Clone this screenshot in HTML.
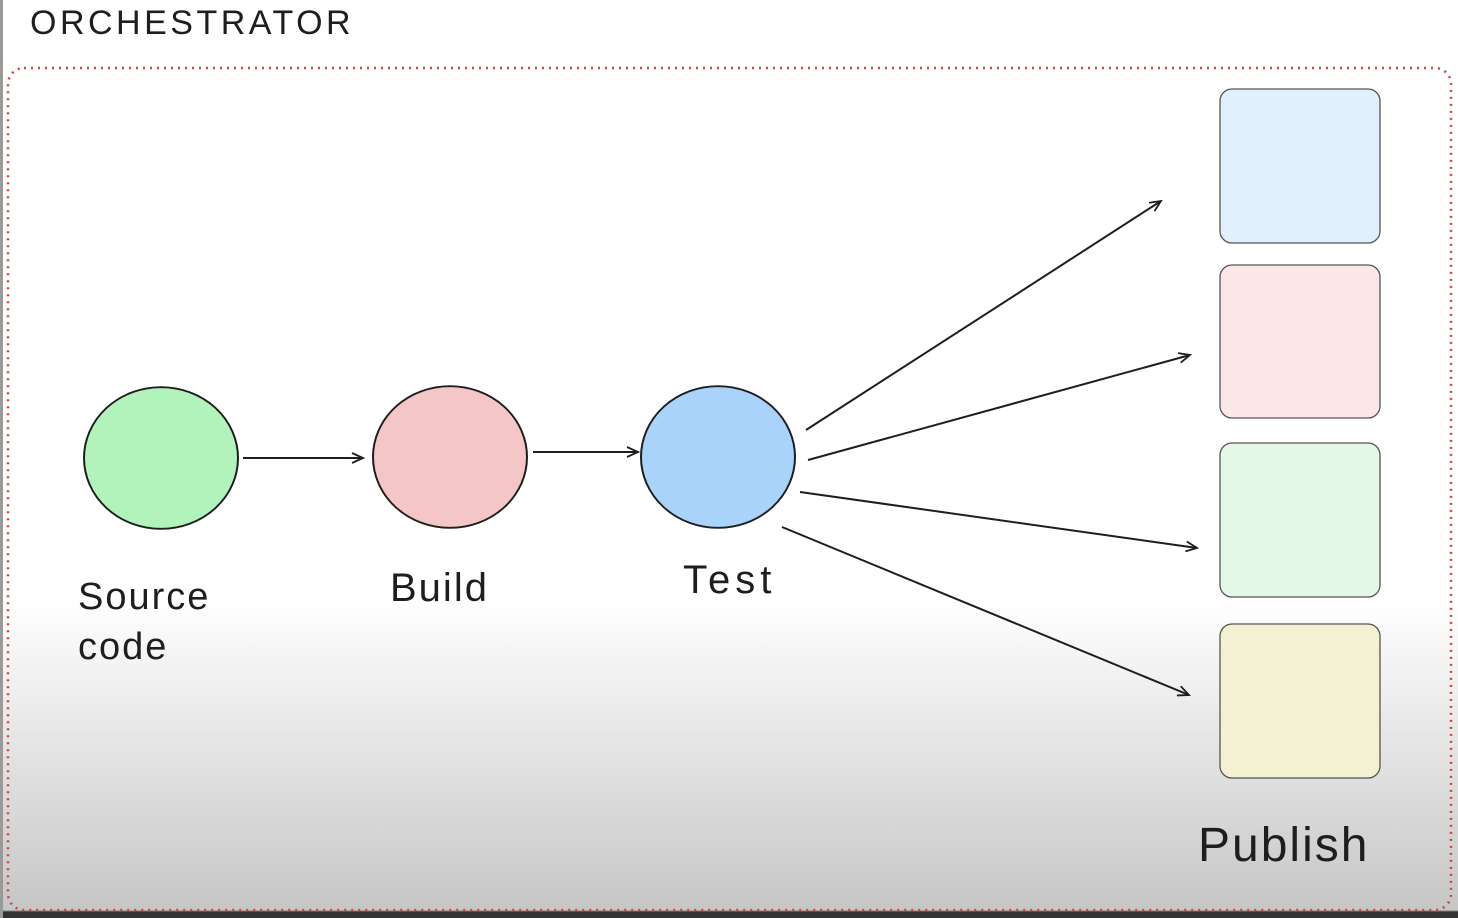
<!DOCTYPE html>
<html><head><style>
html,body{margin:0;padding:0;}
body{width:1458px;height:918px;position:relative;overflow:hidden;background:linear-gradient(to bottom,#fff 0px,#fff 600px,#e2e2e2 760px,#c6c6c6 910px,#333 912px,#333 918px);font-family:"Liberation Sans",sans-serif;}
.t{position:absolute;color:#1e1e1e;font-family:"Liberation Sans",sans-serif;}
</style></head><body>
<div style="position:absolute;left:0;top:0;width:3px;height:918px;background:#9a9a9a"></div>
<div class="t" style="left:30px;top:4px;font-size:34px;letter-spacing:3.5px">ORCHESTRATOR</div>
<svg width="1458" height="918" style="position:absolute;left:0;top:0">
<defs><marker id="a" markerWidth="14" markerHeight="12" refX="12" refY="6" orient="auto" markerUnits="userSpaceOnUse"><path d="M1,1 L12,6 L1,11" fill="none" stroke="#1e1e1e" stroke-width="1.8"/></marker></defs>
<rect x="8" y="68" width="1443" height="842" rx="16" fill="none" stroke="#c44" stroke-width="2.5" stroke-dasharray="2,5"/>
<circle cx="161" cy="458" r="77" fill="#b2f2bb" stroke="#1e1e1e" stroke-width="2" transform="translate(161 458) scale(1,0.92) translate(-161 -458)"/>
<circle cx="450" cy="457" r="77" fill="#f5c6c8" stroke="#1e1e1e" stroke-width="2" transform="translate(450 457) scale(1,0.92) translate(-450 -457)"/>
<circle cx="718" cy="457" r="77" fill="#a9d3fb" stroke="#1e1e1e" stroke-width="2" transform="translate(718 457) scale(1,0.92) translate(-718 -457)"/>
<g stroke="#1e1e1e" stroke-width="2" fill="none" marker-end="url(#a)">
<line x1="243" y1="458" x2="363" y2="458"/>
<line x1="533" y1="452" x2="638" y2="452"/>
<line x1="806" y1="430" x2="1161" y2="201"/>
<line x1="808" y1="460" x2="1190" y2="355"/>
<line x1="800" y1="492" x2="1197" y2="548"/>
<line x1="782" y1="527" x2="1189" y2="695"/>
</g>
<g stroke="#555" stroke-width="1.3">
<rect x="1220" y="89" width="160" height="154" rx="12" fill="#e2effc"/>
<rect x="1220" y="265" width="160" height="153" rx="12" fill="#fbe6e8"/>
<rect x="1220" y="443" width="160" height="154" rx="12" fill="#e5f7e6"/>
<rect x="1220" y="624" width="160" height="154" rx="12" fill="#f4f0d2"/>
</g>
</svg>
<div class="t" style="left:78px;top:572px;font-size:38px;line-height:50px;letter-spacing:2px">Source<br>code</div>
<div class="t" style="left:390px;top:566px;font-size:40px;letter-spacing:2px">Build</div>
<div class="t" style="left:683px;top:558px;font-size:40px;letter-spacing:5px">Test</div>
<div class="t" style="left:1198px;top:818px;font-size:48px;letter-spacing:2px">Publish</div>
</body></html>
